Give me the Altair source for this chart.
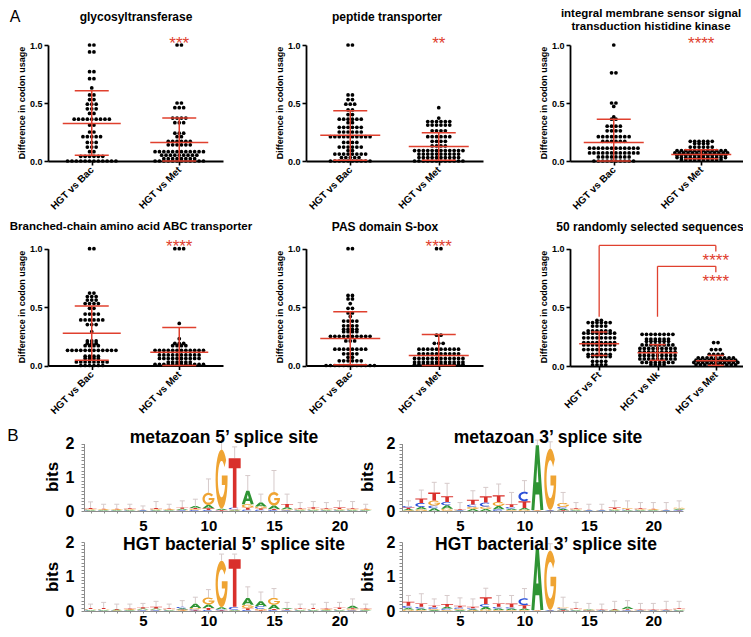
import json
import altair as alt
import numpy as np
import pandas as pd

OFF = 8            # page margin
W, H = 735, 621    # drawing area (page minus margins)
FONT = "Liberation Sans"
RED = "#E0402E"

# ------------------------------------------------------------------
# Panel A: beeswarm rows (value, number of dots)
# ------------------------------------------------------------------
cats2 = ["HGT vs Bac", "HGT vs Met"]
cats3 = ["HGT vs Ft", "HGT vs Nk", "HGT vs Met"]

gly_bac_v = [1.0, 0.94, 0.77, 0.71, 0.63, 0.57, 0.53, 0.49, 0.45, 0.41, 0.36, 0.31, 0.25, 0.21, 0.16, 0.12, 0.08, 0.04, 0.0]
gly_bac_n = [2, 2, 2, 2, 1, 2, 2, 3, 3, 2, 9, 2, 2, 5, 3, 3, 2, 6, 12]
gly_met_v = [1.0, 0.50, 0.46, 0.37, 0.33, 0.24, 0.21, 0.17, 0.14, 0.08, 0.05, 0.02, 0.0]
gly_met_n = [2, 2, 3, 4, 3, 3, 2, 6, 6, 12, 9, 8, 12]
gly_mean, gly_lo, gly_hi = [0.323, 0.16], [0.05, 0.0], [0.606, 0.371]

pep_bac_v = [1.0, 0.57, 0.53, 0.49, 0.44, 0.40, 0.36, 0.33, 0.29, 0.25, 0.21, 0.16, 0.12, 0.09, 0.06, 0.03, 0.0]
pep_bac_n = [2, 2, 2, 3, 2, 2, 6, 2, 6, 6, 10, 4, 6, 2, 8, 5, 10]
pep_met_v = [0.46, 0.37, 0.34, 0.31, 0.26, 0.21, 0.17, 0.13, 0.09, 0.06, 0.03, 0.0]
pep_met_n = [1, 1, 6, 6, 4, 6, 4, 4, 12, 10, 10, 12]
pep_mean, pep_lo, pep_hi = [0.223, 0.126], [0.006, 0.006], [0.434, 0.243]

kin_bac_v = [1.0, 0.76, 0.50, 0.47, 0.38, 0.36, 0.30, 0.26, 0.21, 0.17, 0.11, 0.07, 0.035, 0.0]
kin_bac_n = [1, 2, 2, 1, 1, 2, 4, 4, 8, 6, 12, 12, 8, 10]
kin_met_v = [0.17, 0.15, 0.12, 0.09, 0.07, 0.05, 0.03, 0.01]
kin_met_n = [6, 4, 6, 12, 13, 12, 12, 10]
kin_mean, kin_lo, kin_hi = [0.16, 0.057], [0.0, 0.02], [0.36, 0.097]

abc_bac_v = [1.0, 0.62, 0.59, 0.56, 0.53, 0.49, 0.44, 0.39, 0.35, 0.29, 0.21, 0.19, 0.17, 0.13, 0.08, 0.06, 0.03, 0.0]
abc_bac_n = [2, 2, 3, 3, 4, 2, 4, 6, 3, 1, 3, 3, 4, 12, 4, 4, 8, 6]
abc_met_v = [1.0, 0.36, 0.23, 0.19, 0.17, 0.13, 0.09, 0.06, 0.03, 0.01]
abc_met_n = [3, 1, 1, 3, 4, 12, 10, 10, 6, 12]
abc_mean, abc_lo, abc_hi = [0.277, 0.114], [0.046, 0.0], [0.509, 0.326]

pas_bac_v = [1.0, 0.60, 0.57, 0.53, 0.49, 0.45, 0.42, 0.38, 0.34, 0.31, 0.29, 0.25, 0.21, 0.14, 0.10, 0.07, 0.04, 0.0]
pas_bac_n = [2, 2, 2, 1, 2, 2, 1, 4, 4, 4, 4, 10, 3, 8, 4, 2, 6, 12]
pas_met_v = [1.0, 0.26, 0.19, 0.14, 0.10, 0.06, 0.03, 0.01]
pas_met_n = [2, 2, 3, 10, 10, 12, 12, 12]
pas_mean, pas_lo, pas_hi = [0.231, 0.086], [0.006, 0.0], [0.46, 0.266]

rnd_ft_v = [0.39, 0.37, 0.34, 0.30, 0.28, 0.24, 0.20, 0.18, 0.14, 0.10, 0.08, 0.04, 0.01]
rnd_ft_n = [2, 6, 4, 6, 8, 8, 8, 8, 8, 6, 6, 4, 4]
rnd_nk_v = [0.27, 0.23, 0.21, 0.18, 0.15, 0.12, 0.09, 0.06, 0.03, 0.01]
rnd_nk_n = [8, 6, 6, 8, 9, 9, 9, 9, 8, 4]
rnd_met_v = [0.20, 0.14, 0.10, 0.07, 0.05, 0.03, 0.01]
rnd_met_n = [2, 3, 4, 9, 10, 11, 10]
rnd_mean, rnd_lo, rnd_hi = [0.19, 0.114, 0.045], [0.09, 0.048, 0.006], [0.29, 0.182, 0.09]

# significance marks: (category index, value, text)
gly_sig = [(1, 1.05, "***")]
pep_sig = [(1, 1.05, "**")]
kin_sig = [(1, 1.05, "****")]
abc_sig = [(1, 1.055, "****")]
pas_sig = [(1, 1.055, "****")]
rnd_sig = [(2, 0.94, "****"), (2, 0.76, "****")]
# brackets: (from cat, to cat, bottom, top, drop)
rnd_brackets = [(0, 2, 0.42, 1.028, 0.977), (1, 2, 0.42, 0.85, 0.80)]

# ------------------------------------------------------------------
# Panel B: sequence logo letter heights (bits), positions 1..22,
# and the top of the grey error whisker above each column
# ------------------------------------------------------------------
m5_A = [0.02, 0.02, 0.02, 0.02, 0.01, 0.02, 0.02, 0.03, 0.06, 0.10, 0.04, 0.02, 0.40, 0.12, 0.10, 0.06, 0.02, 0.02, 0.02, 0.02, 0.02, 0.02]
m5_C = [0.02, 0.01, 0.01, 0.02, 0.01, 0.02, 0.01, 0.02, 0.03, 0.03, 0.01, 0.05, 0.04, 0.04, 0.03, 0.02, 0.02, 0.02, 0.02, 0.02, 0.02, 0.01]
m5_G = [0.02, 0.02, 0.02, 0.02, 0.01, 0.02, 0.02, 0.02, 0.03, 0.36, 1.75, 0.03, 0.10, 0.05, 0.40, 0.03, 0.02, 0.03, 0.02, 0.02, 0.02, 0.02]
m5_T = [0.03, 0.02, 0.02, 0.02, 0.01, 0.03, 0.02, 0.03, 0.03, 0.05, 0.02, 1.46, 0.06, 0.04, 0.03, 0.10, 0.02, 0.04, 0.02, 0.04, 0.02, 0.02]
m5_err = [0.27, 0.20, 0.20, 0.20, 0.15, 0.28, 0.20, 0.30, 0.35, 0.95, 2.05, 1.90, 1.05, 0.50, 1.20, 0.50, 0.25, 0.28, 0.25, 0.30, 0.28, 0.20]

h5_A = [0.02, 0.02, 0.02, 0.02, 0.03, 0.03, 0.02, 0.04, 0.12, 0.10, 0.06, 0.02, 0.20, 0.14, 0.12, 0.03, 0.02, 0.02, 0.02, 0.02, 0.07, 0.02]
h5_C = [0.02, 0.02, 0.01, 0.01, 0.02, 0.02, 0.02, 0.04, 0.03, 0.03, 0.03, 0.08, 0.03, 0.08, 0.03, 0.02, 0.02, 0.02, 0.01, 0.02, 0.02, 0.01]
h5_G = [0.02, 0.02, 0.01, 0.02, 0.02, 0.02, 0.02, 0.02, 0.04, 0.20, 1.35, 0.02, 0.10, 0.04, 0.20, 0.02, 0.02, 0.02, 0.02, 0.02, 0.03, 0.02]
h5_T = [0.03, 0.03, 0.02, 0.02, 0.04, 0.05, 0.02, 0.02, 0.02, 0.06, 0.02, 1.38, 0.05, 0.02, 0.03, 0.02, 0.02, 0.03, 0.02, 0.04, 0.03, 0.02]
h5_err = [0.20, 0.25, 0.20, 0.20, 0.22, 0.28, 0.20, 0.30, 0.40, 0.62, 1.65, 1.65, 0.70, 0.55, 0.65, 0.25, 0.20, 0.20, 0.25, 0.25, 0.35, 0.20]

m3_A = [0.04, 0.07, 0.08, 0.10, 0.01, 0.06, 0.06, 0.10, 0.04, 0.05, 1.92, 0.01, 0.05, 0.02, 0.01, 0.01, 0.02, 0.02, 0.02, 0.02, 0.01, 0.03]
m3_C = [0.05, 0.12, 0.08, 0.10, 0.01, 0.07, 0.12, 0.05, 0.05, 0.28, 0.01, 0.01, 0.05, 0.02, 0.01, 0.01, 0.02, 0.02, 0.02, 0.01, 0.01, 0.02]
m3_G = [0.02, 0.05, 0.15, 0.07, 0.01, 0.06, 0.07, 0.12, 0.03, 0.04, 0.01, 1.82, 0.12, 0.02, 0.01, 0.01, 0.02, 0.03, 0.02, 0.02, 0.01, 0.03]
m3_T = [0.04, 0.13, 0.24, 0.17, 0.02, 0.14, 0.19, 0.20, 0.08, 0.20, 0.01, 0.01, 0.02, 0.02, 0.01, 0.01, 0.04, 0.02, 0.02, 0.02, 0.01, 0.02]
m3_err = [0.30, 0.62, 0.85, 0.82, 0.25, 0.60, 0.70, 0.80, 0.55, 0.90, 2.10, 2.05, 0.55, 0.25, 0.20, 0.20, 0.30, 0.30, 0.25, 0.25, 0.25, 0.30]

h3_A = [0.05, 0.04, 0.03, 0.05, 0.03, 0.03, 0.08, 0.04, 0.04, 0.04, 1.78, 0.01, 0.03, 0.02, 0.02, 0.01, 0.02, 0.06, 0.01, 0.01, 0.01, 0.02]
h3_C = [0.06, 0.05, 0.05, 0.04, 0.04, 0.03, 0.08, 0.05, 0.04, 0.20, 0.01, 0.01, 0.03, 0.02, 0.01, 0.01, 0.01, 0.02, 0.01, 0.01, 0.01, 0.02]
h3_G = [0.04, 0.03, 0.03, 0.03, 0.03, 0.02, 0.04, 0.03, 0.03, 0.03, 0.01, 1.72, 0.03, 0.02, 0.02, 0.01, 0.01, 0.02, 0.01, 0.01, 0.01, 0.02]
h3_T = [0.12, 0.10, 0.05, 0.08, 0.05, 0.04, 0.20, 0.10, 0.11, 0.10, 0.01, 0.01, 0.02, 0.02, 0.01, 0.01, 0.02, 0.02, 0.01, 0.01, 0.01, 0.02]
h3_err = [0.45, 0.50, 0.35, 0.45, 0.38, 0.35, 0.66, 0.45, 0.45, 0.65, 1.95, 1.95, 0.40, 0.25, 0.22, 0.20, 0.28, 0.30, 0.22, 0.22, 0.28, 0.28]

LETTER_COL = {"A": "#2F9434", "C": "#2A4FD8", "G": "#EFA433", "T": "#D9302B"}
WHISKER = "#D6CACA"

# ------------------------------------------------------------------
# helpers
# ------------------------------------------------------------------
DOT_STEP = 4.4


def label(text, x, y, size, weight="bold", angle=0, color="black", align="center", baseline="middle"):
    return alt.Chart(pd.DataFrame({"t": [text]})).mark_text(
        font=FONT, fontSize=size, fontWeight=weight, angle=angle, color=color,
        align=align, baseline=baseline
    ).encode(x=alt.value(x - OFF), y=alt.value(y - OFF), text="t:N")


def scatter(groups, cats, mean, lo, hi, sig, layout, mean_hw, cap_hw, brackets=()):
    ax, ex, y0, y1 = layout
    n = len(cats)
    ppu = (ex - ax) / n

    def xs():
        return alt.Scale(domain=[-0.5, n - 0.5], range=[ax - OFF, ex - OFF], nice=False, zero=False)

    def ys():
        return alt.Scale(domain=[0, 1], range=[y0 - OFF, y1 - OFF], nice=False, zero=False)

    pts = []
    for ci, (vals, cnts) in enumerate(groups):
        for v, c in zip(vals, cnts):
            for i in range(c):
                pts.append({"x": ci + (i - (c - 1) / 2) * DOT_STEP / ppu, "y": v})
    dots = pd.DataFrame(pts)
    st = pd.DataFrame({
        "c": list(range(n)), "mean": mean, "lo": lo, "hi": hi,
        "xl": [i - mean_hw / ppu for i in range(n)], "xr": [i + mean_hw / ppu for i in range(n)],
        "cl": [i - cap_hw / ppu for i in range(n)], "cr": [i + cap_hw / ppu for i in range(n)],
    })
    yaxis = alt.Axis(values=[0, 0.5, 1], format=".1f", title=None, orient="left", offset=-(ax - OFF),
                     domainColor="black", domainWidth=1.8, tickColor="black", tickWidth=1.6, tickSize=4,
                     labelFont=FONT, labelFontSize=9, labelFontWeight="bold", labelColor="black",
                     labelPadding=2, grid=False, labelFlush=False)
    xaxis = alt.Axis(values=list(range(n)), labelExpr=json.dumps(cats) + "[datum.value]", title=None,
                     orient="bottom", offset=(y0 - OFF) - H, labelAngle=-45, labelAlign="right",
                     labelBaseline="middle", domainColor="black", domainWidth=1.8, tickColor="black",
                     tickWidth=1.6, tickSize=4, labelFont=FONT, labelFontSize=10, labelFontWeight="bold",
                     labelColor="black", labelPadding=3, grid=False, labelFlush=False, labelOverlap=False)
    L = [
        alt.Chart(dots).mark_circle(size=14, color="black", opacity=1).encode(
            x=alt.X("x:Q", scale=xs(), axis=xaxis), y=alt.Y("y:Q", scale=ys(), axis=yaxis)),
        alt.Chart(st).mark_rule(color=RED, strokeWidth=1.5).encode(
            x=alt.X("xl:Q", scale=xs(), axis=None), x2="xr:Q", y=alt.Y("mean:Q", scale=ys(), axis=None)),
        alt.Chart(st).mark_rule(color=RED, strokeWidth=1.5).encode(
            x=alt.X("c:Q", scale=xs(), axis=None), y=alt.Y("lo:Q", scale=ys(), axis=None), y2="hi:Q"),
        alt.Chart(st).mark_rule(color=RED, strokeWidth=1.5).encode(
            x=alt.X("cl:Q", scale=xs(), axis=None), x2="cr:Q", y=alt.Y("hi:Q", scale=ys(), axis=None)),
        alt.Chart(st).mark_rule(color=RED, strokeWidth=1.5).encode(
            x=alt.X("cl:Q", scale=xs(), axis=None), x2="cr:Q", y=alt.Y("lo:Q", scale=ys(), axis=None)),
    ]
    sg = pd.DataFrame({"x": [s[0] for s in sig], "y": [s[1] for s in sig], "t": [s[2] for s in sig]})
    L.append(alt.Chart(sg).mark_text(color=RED, font=FONT, fontSize=17, baseline="alphabetic", dy=10).encode(
        x=alt.X("x:Q", scale=xs(), axis=None), y=alt.Y("y:Q", scale=ys(), axis=None), text="t:N"))
    if brackets:
        segs = []
        for a, b, bot, top, drop in brackets:
            segs += [dict(x=a, x2=a, y=bot, y2=top), dict(x=a, x2=b, y=top, y2=top), dict(x=b, x2=b, y=top, y2=drop)]
        L.append(alt.Chart(pd.DataFrame(segs)).mark_rule(color=RED, strokeWidth=1.3).encode(
            x=alt.X("x:Q", scale=xs(), axis=None), x2="x2:Q",
            y=alt.Y("y:Q", scale=ys(), axis=None), y2="y2:Q"))
    return L


# letter glyphs in a unit box centred at 0 (y up)
def arc(r, a0, a1, n=28):
    t = np.radians(np.linspace(a0, a1, n))
    return [(r * np.cos(a), r * np.sin(a)) for a in t]


RO, RI = 0.5, 0.31
GLYPHS = {
    "T": [[(-0.5, 0.5), (0.5, 0.5), (0.5, 0.3), (0.15, 0.3), (0.15, -0.5), (-0.15, -0.5), (-0.15, 0.3), (-0.5, 0.3)]],
    "A": [[(-0.13, 0.5), (0.13, 0.5), (0.5, -0.5), (0.25, -0.5), (0.16, -0.26), (-0.16, -0.26), (-0.25, -0.5), (-0.5, -0.5)],
          [(-0.09, -0.07), (0.09, -0.07), (0.0, 0.22)]],
    "C": [arc(RO, 50, 310) + arc(RI, 310, 50)],
    "G": [arc(RO, 40, 360) + [(0.5, 0.06), (0.02, 0.06), (0.02, -0.1)]
          + arc(RI, 360 + np.degrees(np.arcsin(-0.1 / RI)), 40)],
}
LW = 12.0


def glyph_path(letter, w, h):
    out = []
    for poly in GLYPHS[letter]:
        out.append("M" + "L".join(f"{x * w:.2f},{-y * h:.2f}" for x, y in poly) + "Z")
    return "".join(out)


def logo(hA, hC, hG, hT, err, layout, lab_pad, xlab_pad):
    x0, x1, dom_hi, y0, y2 = layout
    ppb = (y0 - y2) / 2
    ppu = (x1 - x0) / (dom_hi - 0.5)
    rows, wh = [], []
    for i in range(len(hA)):
        hs = sorted([("A", hA[i]), ("C", hC[i]), ("G", hG[i]), ("T", hT[i])], key=lambda t: t[1])
        base = 0.0
        for Lt, h in hs:
            rows.append(dict(pos=i + 1, yc=base + h / 2, path=glyph_path(Lt, LW, h * ppb), col=LETTER_COL[Lt]))
            base += h
        wh.append(dict(pos=i + 1, pl=i + 1 - 2.5 / ppu, pr=i + 1 + 2.5 / ppu, top=base, err=err[i]))
    df = pd.DataFrame(rows)
    wdf = pd.DataFrame(wh)

    def xs():
        return alt.Scale(domain=[0.5, dom_hi], range=[x0 - OFF, x1 - OFF], nice=False, zero=False)

    def ys():
        return alt.Scale(domain=[0, 2], range=[y0 - OFF, y2 - OFF], nice=False, zero=False)

    yaxis = alt.Axis(values=[round(0.1 * k, 1) for k in range(21)],
                     labelExpr="datum.value % 1 == 0 ? format(datum.value, 'd') : ''",
                     title=None, orient="left", offset=-(x0 - OFF), domainColor="#8c8c8c", domainWidth=1,
                     tickColor="#8c8c8c", tickSize=3, labelFont=FONT, labelFontSize=16, labelFontWeight="bold",
                     labelColor="black", labelPadding=lab_pad, grid=False, labelFlush=False, labelOverlap=False)
    xaxis = alt.Axis(values=list(range(1, 23)), labelExpr="datum.value % 5 == 0 ? datum.value : ''",
                     title=None, orient="bottom", offset=(y0 - OFF) - H, domainColor="#8c8c8c", domainWidth=1,
                     tickColor="#8c8c8c", tickSize=2, labelFont=FONT, labelFontSize=15, labelFontWeight="bold",
                     labelColor="black", labelPadding=xlab_pad, grid=False, labelFlush=False, labelOverlap=False)
    whisk = alt.Chart(wdf).mark_rule(color=WHISKER, strokeWidth=1).encode(
        x=alt.X("pos:Q", scale=xs(), axis=None), y=alt.Y("top:Q", scale=ys(), axis=None), y2="err:Q")
    caps = alt.Chart(wdf).mark_rule(color=WHISKER, strokeWidth=1).encode(
        x=alt.X("pl:Q", scale=xs(), axis=None), x2="pr:Q", y=alt.Y("err:Q", scale=ys(), axis=None))
    letters = alt.Chart(df).mark_point(size=4, filled=True, opacity=1, strokeWidth=0).encode(
        x=alt.X("pos:Q", scale=xs(), axis=xaxis),
        y=alt.Y("yc:Q", scale=ys(), axis=yaxis),
        shape=alt.Shape("path:N", scale=None, legend=None),
        color=alt.Color("col:N", scale=None, legend=None),
    )
    return [whisk, caps, letters]


layers = []
# ---- panel A ----
R1 = (161, 45)
R2 = (365.5, 248.7)
layers += scatter([(gly_bac_v, gly_bac_n), (gly_met_v, gly_met_n)], cats2, gly_mean, gly_lo, gly_hi, gly_sig, (48, 223) + R1, 29, 17)
layers += scatter([(pep_bac_v, pep_bac_n), (pep_met_v, pep_met_n)], cats2, pep_mean, pep_lo, pep_hi, pep_sig, (306, 483) + R1, 30, 17)
layers += scatter([(kin_bac_v, kin_bac_n), (kin_met_v, kin_met_n)], cats2, kin_mean, kin_lo, kin_hi, kin_sig, (570, 745) + R1, 30, 17)
layers += scatter([(abc_bac_v, abc_bac_n), (abc_met_v, abc_met_n)], cats2, abc_mean, abc_lo, abc_hi, abc_sig, (48, 223) + R2, 29, 17)
layers += scatter([(pas_bac_v, pas_bac_n), (pas_met_v, pas_met_n)], cats2, pas_mean, pas_lo, pas_hi, pas_sig, (306, 483) + R2, 30, 17)
layers += scatter([(rnd_ft_v, rnd_ft_n), (rnd_nk_v, rnd_nk_n), (rnd_met_v, rnd_met_n)], cats3, rnd_mean, rnd_lo, rnd_hi, rnd_sig, (570, 745, 366, 248.7), 20, 8, rnd_brackets)

# ---- panel B ----
layers += logo(m5_A, m5_C, m5_G, m5_T, m5_err, (84, 367, 22.1, 511, 443.5), 7, 5)
layers += logo(h5_A, h5_C, h5_G, h5_T, h5_err, (84, 367, 22.1, 611, 542), 7, 0)
layers += logo(m3_A, m3_C, m3_G, m3_T, m3_err, (402, 683, 22.3, 511, 443.5), 4, 5)
layers += logo(h3_A, h3_C, h3_G, h3_T, h3_err, (402, 683, 22.3, 611, 542), 4, 0)

# ---- texts ----
texts = [
    label("A", 15, 8.5, 16, weight="normal", baseline="top"),
    label("B", 13, 441, 17, weight="normal", baseline="alphabetic"),
    label("glycosyltransferase", 136, 17, 12),
    label("peptide transporter", 387, 17, 12),
    label("integral membrane sensor signal", 651, 14, 11.5),
    label("transduction histidine kinase", 651, 27, 11.5),
    label("Branched-chain amino acid ABC transporter", 131, 227, 11.5),
    label("PAS domain S-box", 385, 227, 12),
    label("50 randomly selected sequences", 650, 227, 12),
]
for ax_x, yc in [(48, 103), (306, 103), (570, 103), (48, 307), (306, 307), (570, 307)]:
    texts.append(label("Difference in codon usage", ax_x - 26, yc, 9, angle=270))
texts += [
    label("metazoan 5\u2019 splice site", 224, 438, 17.5),
    label("metazoan 3\u2019 splice site", 548, 438, 17.5),
    label("HGT bacterial 5\u2019 splice site", 234, 545, 17.5),
    label("HGT bacterial 3\u2019 splice site", 546, 545, 17.5),
    label("bits", 53, 477, 17, angle=270),
    label("bits", 53, 577, 17, angle=270),
    label("bits", 368, 477, 17, angle=270),
    label("bits", 368, 577, 17, angle=270),
]
layers += texts

chart = alt.layer(*layers).resolve_scale(
    x="independent", y="independent"
).resolve_axis(
    x="independent", y="independent"
).properties(
    width=W, height=H, padding=0, autosize=alt.AutoSizeParams(type="none")
).configure_view(stroke=None)

chart.save("out.html", embed_options={"renderer": "svg", "actions": False})
